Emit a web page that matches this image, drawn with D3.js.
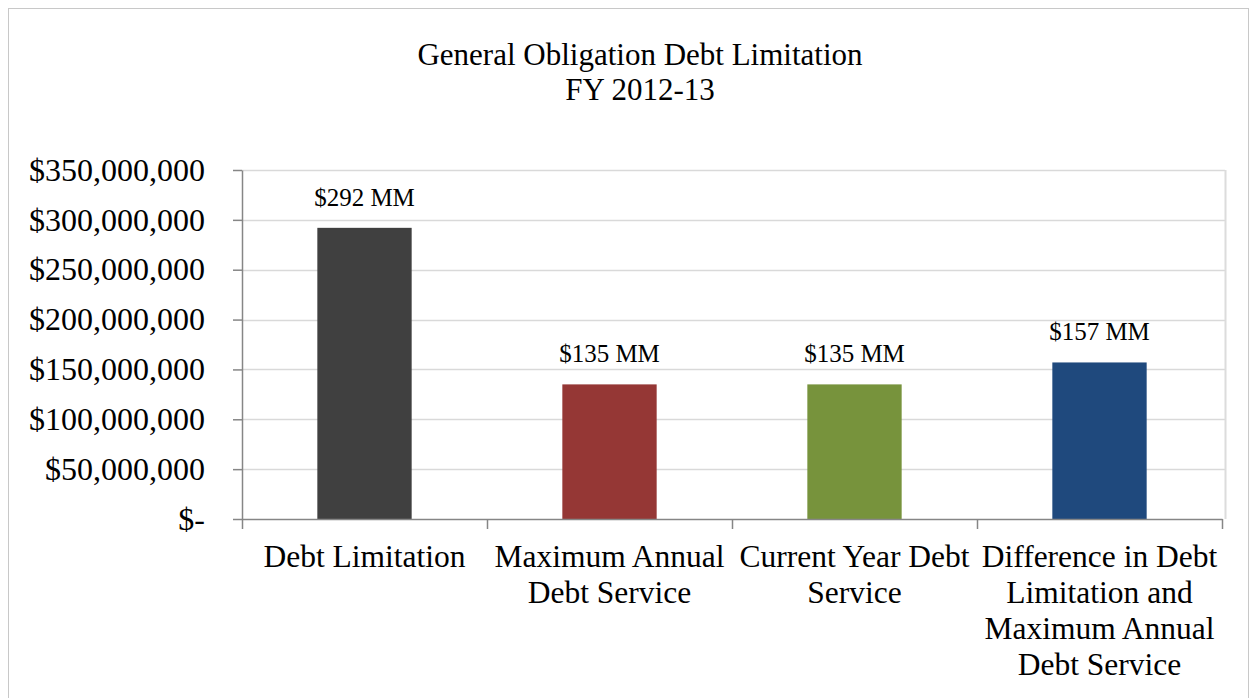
<!DOCTYPE html>
<html>
<head>
<meta charset="utf-8">
<script src="https://cdn.jsdelivr.net/npm/d3@7"></script>
<style>
  body { margin: 0; background: #fff; }
  text { font-family: "Liberation Serif", "Times New Roman", serif; fill: #000; }
</style>
</head>
<body>
<div id="debt-chart"></div>
<script>
var categories = [
  ["Debt Limitation"],
  ["Maximum Annual", "Debt Service"],
  ["Current Year Debt", "Service"],
  ["Difference in Debt", "Limitation and", "Maximum Annual", "Debt Service"]
];
var values = [292000000, 135000000, 135000000, 157000000];
var valueLabels = ["$292 MM", "$135 MM", "$135 MM", "$157 MM"];
var barColors = ["#404040", "#953735", "#77933c", "#1f497d"];
var yTicks = [0, 50000000, 100000000, 150000000, 200000000, 250000000, 300000000, 350000000];
var yTickLabels = ["$-", "$50,000,000", "$100,000,000", "$150,000,000", "$200,000,000", "$250,000,000", "$300,000,000", "$350,000,000"];
var titleLines = ["General Obligation Debt Limitation", "FY 2012-13"];

var W = 1252, H = 698,
    margin = { top: 170, right: 30, bottom: 179, left: 242 },
    width = W - margin.left - margin.right,
    height = H - margin.top - margin.bottom;

var svg = d3.select("#debt-chart").append("svg")
    .attr("width", W)
    .attr("height", H);

// outer chart border
svg.append("rect")
    .attr("x", 8.5).attr("y", 8.5)
    .attr("width", W - 12).attr("height", H + 20)
    .attr("fill", "none")
    .attr("stroke", "#c8c8c8");

// title
svg.selectAll(".title")
    .data(titleLines)
    .enter().append("text")
    .attr("class", "title")
    .attr("x", 640)
    .attr("y", function(d, i) { return 65 + i * 35; })
    .style("text-anchor", "middle")
    .style("font-size", "31px")
    .text(function(d) { return d; });

var g = svg.append("g")
    .attr("transform", "translate(" + margin.left + "," + margin.top + ")");

var idx = d3.range(categories.length);
var x = d3.scaleBand().domain(idx).range([0, width]).padding(0);
var y = d3.scaleLinear().domain([0, 350000000]).range([height, 0]);

// gridlines
g.selectAll(".grid")
    .data(yTicks.slice(1))
    .enter().append("line")
    .attr("class", "grid")
    .attr("x1", 0).attr("x2", width + 3)
    .attr("y1", function(d) { return Math.round(y(d)) + 0.5; })
    .attr("y2", function(d) { return Math.round(y(d)) + 0.5; })
    .attr("stroke", "#d9d9d9")
    .attr("stroke-width", 1.5);

// plot area right edge
g.append("line")
    .attr("x1", width + 3.5).attr("x2", width + 3.5)
    .attr("y1", 0).attr("y2", height)
    .attr("stroke", "#dcdcdc")
    .attr("stroke-width", 2);

// bars
var bw = x.bandwidth() * 0.385;
g.selectAll(".bar")
    .data(values)
    .enter().append("rect")
    .attr("class", "bar")
    .attr("x", function(d, i) { return x(i) + x.bandwidth() / 2 - bw / 2; })
    .attr("y", function(d) { return y(d); })
    .attr("width", bw)
    .attr("height", function(d) { return height - y(d); })
    .attr("fill", function(d, i) { return barColors[i]; });

// value labels
g.selectAll(".vlabel")
    .data(values)
    .enter().append("text")
    .attr("class", "vlabel")
    .attr("x", function(d, i) { return x(i) + x.bandwidth() / 2; })
    .attr("y", function(d) { return y(d) - 22; })
    .style("text-anchor", "middle")
    .style("font-size", "25px")
    .text(function(d, i) { return valueLabels[i]; });

// y axis
var yAxis = d3.axisLeft(y)
    .tickValues(yTicks)
    .tickSize(9)
    .tickSizeOuter(0)
    .tickPadding(28)
    .tickFormat(function(d, i) { return yTickLabels[i]; });

var ya = g.append("g").attr("class", "axis axis--y").call(yAxis);
ya.select(".domain").attr("stroke", "#868686").attr("stroke-width", 1.5);
ya.selectAll(".tick line").attr("stroke", "#868686").attr("stroke-width", 1.5);
ya.selectAll(".tick text").style("font-size", "32px").attr("font-family", null);

// x axis: boundary ticks
var xb = d3.scaleLinear().domain([0, categories.length]).range([0, width]);
var xAxis = d3.axisBottom(xb)
    .tickValues(d3.range(categories.length + 1))
    .tickSize(10)
    .tickSizeOuter(0)
    .tickFormat("");
var xa = g.append("g")
    .attr("class", "axis axis--x")
    .attr("transform", "translate(0," + height + ")")
    .call(xAxis);
xa.select(".domain").attr("stroke", "#868686").attr("stroke-width", 1.5);
xa.selectAll(".tick line").attr("stroke", "#868686").attr("stroke-width", 1.5);

// x category labels
var xl = g.append("g")
    .attr("class", "axis-labels")
    .attr("transform", "translate(0," + height + ")");
xl.selectAll(".xlabel")
    .data(categories)
    .enter().append("text")
    .attr("class", "xlabel")
    .attr("transform", function(d, i) { return "translate(" + (x(i) + x.bandwidth() / 2) + ",0)"; })
    .style("text-anchor", "middle")
    .style("font-size", "31.5px")
    .selectAll("tspan")
    .data(function(d) { return d; })
    .enter().append("tspan")
    .attr("x", 0)
    .attr("y", function(d, i) { return 48 + i * 36; })
    .text(function(d) { return d; });
</script>
</body>
</html>
